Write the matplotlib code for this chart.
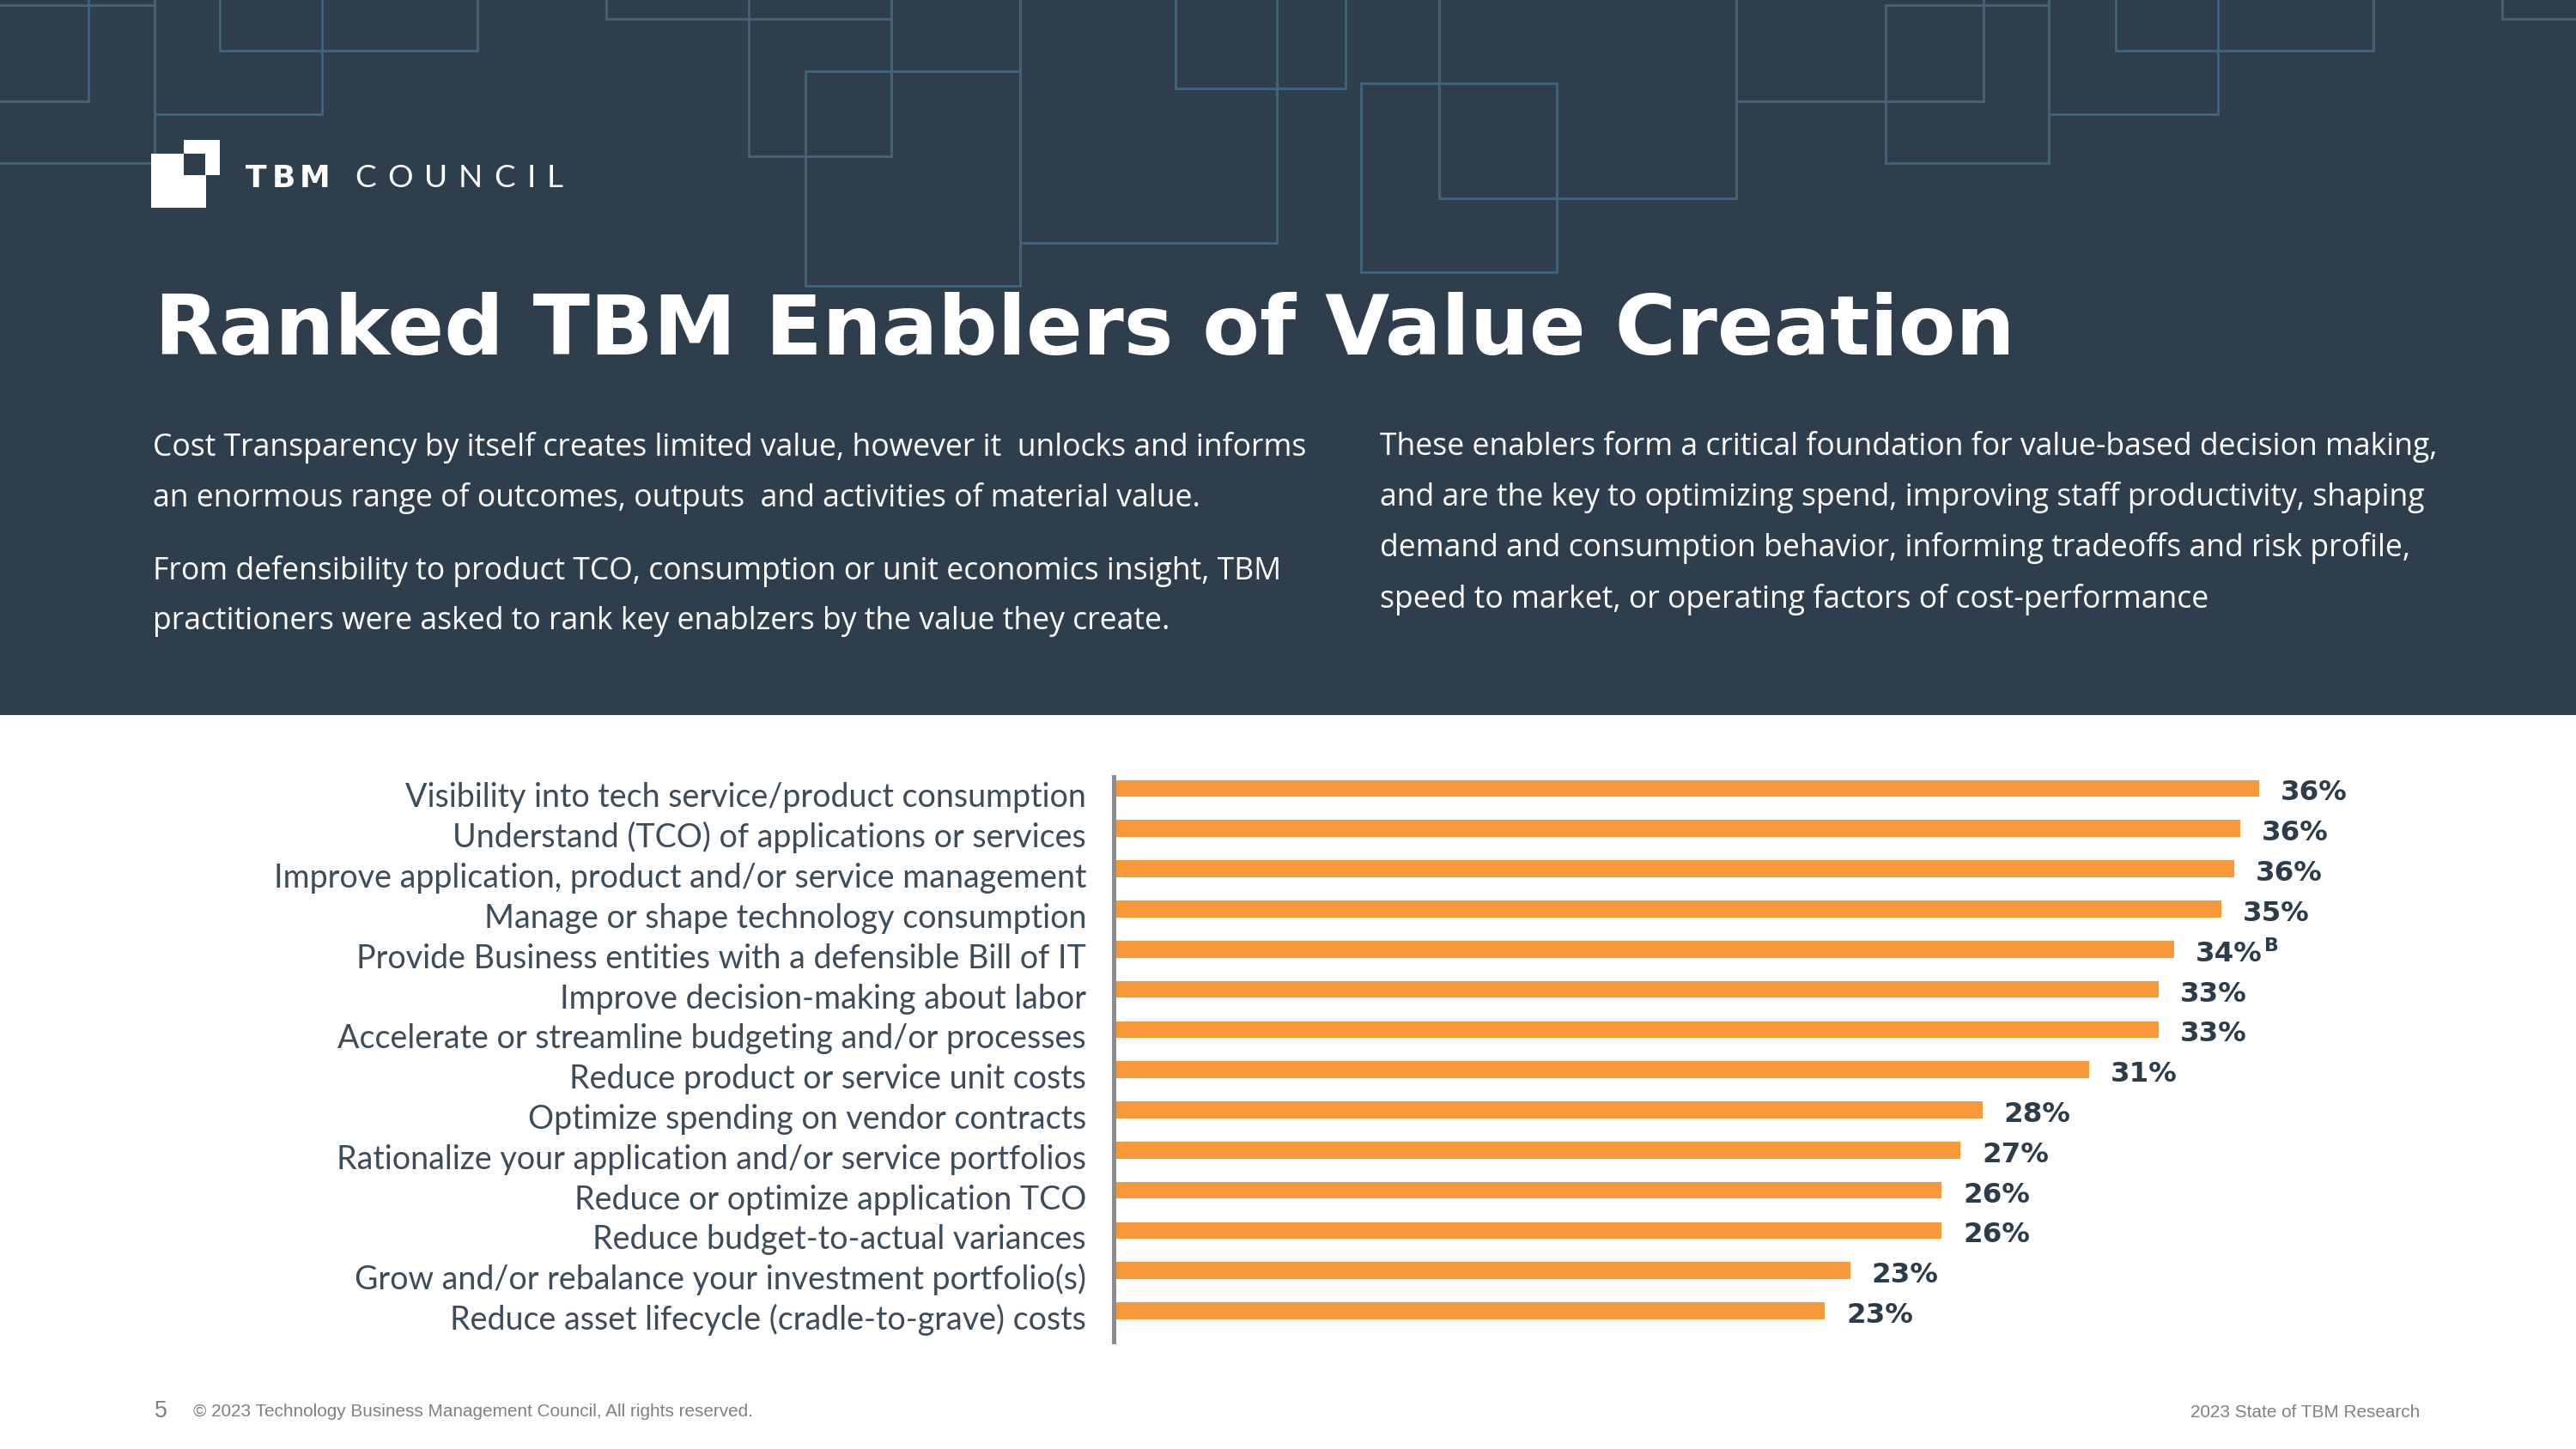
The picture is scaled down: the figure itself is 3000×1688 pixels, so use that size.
import matplotlib
matplotlib.use("Agg")
import matplotlib.pyplot as plt
from matplotlib.patches import Rectangle
from matplotlib.transforms import ScaledTranslation, blended_transform_factory

# ---------------- data ----------------
categories = [
    "Visibility into tech service/product consumption",
    "Understand (TCO) of applications or services",
    "Improve application, product and/or service management",
    "Manage or shape technology consumption",
    "Provide Business entities with a defensible Bill of IT",
    "Improve decision-making about labor",
    "Accelerate or streamline budgeting and/or processes",
    "Reduce product or service unit costs",
    "Optimize spending on vendor contracts",
    "Rationalize your application and/or service portfolios",
    "Reduce or optimize application TCO",
    "Reduce budget-to-actual variances",
    "Grow and/or rebalance your investment portfolio(s)",
    "Reduce asset lifecycle (cradle-to-grave) costs",
]
values = [36.4, 35.8, 35.6, 35.2, 33.7, 33.2, 33.2, 31.0, 27.6, 26.9, 26.3, 26.3, 23.4, 22.6]
value_labels = ["36%", "36%", "36%", "35%", "34%", "33%", "33%", "31%",
                "28%", "27%", "26%", "26%", "23%", "23%"]
value_notes = ["", "", "", "", "B", "", "", "", "", "", "", "", "", ""]

title = "Ranked TBM Enablers of Value Creation"
left_text = [
    "Cost Transparency by itself creates limited value, however it  unlocks and informs",
    "an enormous range of outcomes, outputs  and activities of material value.",
    "From defensibility to product TCO, consumption or unit economics insight, TBM",
    "practitioners were asked to rank key enablzers by the value they create.",
]
right_text = [
    "These enablers form a critical foundation for value-based decision making,",
    "and are the key to optimizing spend, improving staff productivity, shaping",
    "demand and consumption behavior, informing tradeoffs and risk profile,",
    "speed to market, or operating factors of cost-performance",
]
footer_page = "5"
footer_left = "\u00a9 2023 Technology Business Management Council, All rights reserved."
footer_right = "2023 State of TBM Research"

# ---------------- styling / layout ----------------
W, H, DPI = 3000, 1688, 100
NAVY = "#2F3E4D"
LINE = "#436179"
ORANGE = "#F7993A"
DARK = "#2D3C4B"
LABEL = "#3E4B59"
GRAY = "#808080"

fig = plt.figure(figsize=(W / DPI, H / DPI), dpi=DPI)
fig.patch.set_facecolor("white")
R = fig.canvas.get_renderer()


def pt(p):
    return p * 72.0 / DPI


def fit(t, target):
    w = t.get_window_extent(R).width
    t.set_fontsize(t.get_fontsize() * target / w)
    return t.get_fontsize()


bg = fig.add_axes([0, 0, 1, 1])
bg.set_xlim(0, W)
bg.set_ylim(H, 0)
bg.axis("off")

# header band
bg.add_patch(Rectangle((0, 0), W, 833, facecolor=NAVY, edgecolor="none", zorder=0))

# decorative outline squares (x0, y0, x1, y1) in pixels
deco = [
    (-20, -20, 103, 118), (-20, 6, 180, 190), (180, -20, 375, 133),
    (256, -20, 556, 59), (706, -20, 1038, 22), (872, -20, 1038, 182),
    (938, 83, 1188, 333), (1188, -20, 1487, 283), (1369, -20, 1567, 103),
    (1676, -20, 2022, 231), (1585, 97, 1813, 317), (2022, -20, 2310, 118),
    (2196, 6, 2386, 190), (2386, -20, 2583, 133), (2464, -20, 2764, 59),
    (2914, -20, 3030, 22),
]
for x0, y0, x1, y1 in deco:
    bg.add_patch(Rectangle((x0, y0), x1 - x0, y1 - y0, fill=False,
                           edgecolor=LINE, lw=pt(3), zorder=1))

# logo
bg.add_patch(Rectangle((176, 179), 64, 63, facecolor="white", edgecolor="none", zorder=2))
bg.add_patch(Rectangle((214, 163), 42, 41, facecolor="white", edgecolor="none", zorder=2))
bg.add_patch(Rectangle((214, 179), 25, 25, facecolor=NAVY, edgecolor="none", zorder=3))


def tracked(x0, x1, y, s, **kw):
    ts = [bg.text(0, y, ch, va="baseline", ha="left", **kw) for ch in s]
    ws = [t.get_window_extent(R).width for t in ts]
    gap = (x1 - x0 - sum(ws)) / (len(s) - 1)
    x = x0
    for t, w in zip(ts, ws):
        t.set_x(x)
        x += w + gap


tracked(286, 385, 218, "TBM", fontsize=pt(36), family="DejaVu Sans",
        weight="bold", color="white", zorder=3)
tracked(413, 656, 218, "COUNCIL", fontsize=pt(37), family="Lato",
        weight="normal", color="white", zorder=3)

# title
tt = bg.text(180, 413, title, fontsize=pt(100), family="DejaVu Sans",
             weight="bold", color="white", va="baseline", ha="left", zorder=3)
fit(tt, 2168)

# body paragraphs
bt = bg.text(178, 531, left_text[0], fontsize=pt(32), family="Open Sans",
             color="white", va="baseline", ha="left", zorder=3)
bsize = fit(bt, 1346)
for yy, s in zip([590, 675, 733], left_text[1:]):
    bg.text(178, yy, s, fontsize=bsize, family="Open Sans", color="white",
            va="baseline", ha="left", zorder=3)
for yy, s in zip([530, 589, 648, 708], right_text):
    bg.text(1607, yy, s, fontsize=bsize, family="Open Sans", color="white",
            va="baseline", ha="left", zorder=3)

# footer
ft = bg.text(225, 1650, footer_left, fontsize=pt(18), family="Liberation Sans",
             color=GRAY, va="baseline", ha="left")
fsize = fit(ft, 651)
bg.text(180, 1651, footer_page, fontsize=fsize * 1.3, family="Liberation Sans",
        color=GRAY, va="baseline", ha="left")
bg.text(2818, 1651, footer_right, fontsize=fsize, family="Liberation Sans",
        color=GRAY, va="baseline", ha="right")

# ---------------- bar chart ----------------
ax_left, ax_right = 1297, 2900
ax_top, ax_bottom = 905, 1563
ax = fig.add_axes([ax_left / W, 1 - ax_bottom / H,
                   (ax_right - ax_left) / W, (ax_bottom - ax_top) / H])
ax.set_facecolor("none")
n = len(categories)
pos = list(range(n))
ax.barh(pos, values, height=0.42, color=ORANGE, zorder=2)
step = 46.81
ax.set_ylim(n - 1 + (ax_bottom - 1527) / step, -(918.5 - ax_top) / step)
ax.set_xlim(0, (ax_right - ax_left) / 36.65)
for s in ["top", "right", "bottom"]:
    ax.spines[s].set_visible(False)
ax.spines["left"].set_color("#8C8C8C")
ax.spines["left"].set_linewidth(pt(5))
ax.spines["left"].set_zorder(3)
ax.set_xticks([])
ax.set_yticks([])

# category labels
ctrans = blended_transform_factory(ax.transAxes, ax.transData) + \
    ScaledTranslation(-32 / DPI, -22 / DPI, fig.dpi_scale_trans)
ctexts = [ax.text(0, i, c, transform=ctrans, ha="right", va="baseline",
                  fontsize=pt(36), family="Lato", weight="normal", color=LABEL)
          for i, c in zip(pos, categories)]
csize = fit(ctexts[2], 948)
for t in ctexts:
    t.set_fontsize(csize)

# value labels
vtrans = ax.transData + ScaledTranslation(25 / DPI, -14 / DPI, fig.dpi_scale_trans)
vtexts = [ax.text(v, i, lab, transform=vtrans, ha="left", va="baseline",
                  fontsize=pt(34), family="DejaVu Sans", weight="bold", color=DARK)
          for i, v, lab in zip(pos, values, value_labels)]
vsize = fit(vtexts[0], 78)
for t in vtexts:
    t.set_fontsize(vsize)
for t, note in zip(vtexts, value_notes):
    if note:
        ax.annotate(note, xy=(1, 1), xycoords=t, xytext=(pt(2), pt(4)),
                    textcoords="offset points", ha="left", va="top",
                    fontsize=vsize * 0.68, family="DejaVu Sans",
                    weight="bold", color=DARK)

fig.savefig("out.png", dpi=DPI, facecolor=fig.get_facecolor())
